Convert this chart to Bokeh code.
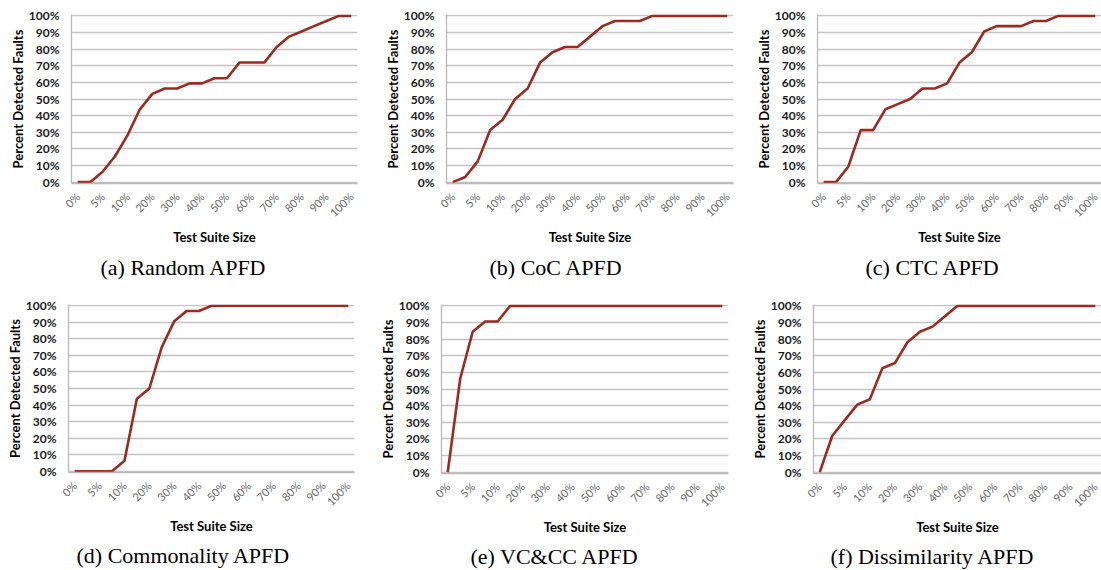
import math
from bokeh.plotting import figure
from bokeh.layouts import row, column
from bokeh.models import Range1d, FixedTicker, PrintfTickFormatter, Title, ColumnDataSource
from bokeh.embed import file_html
from bokeh.resources import INLINE

# ---- data -------------------------------------------------------------
categories = ["0%", "2.5%", "5%", "7.5%", "10%", "15%", "20%", "25%", "30%", "35%",
              "40%", "45%", "50%", "55%", "60%", "65%", "70%", "75%", "80%", "85%",
              "90%", "95%", "100%"]
tick_labels = ["0%", "5%", "10%", "20%", "30%", "40%", "50%", "60%", "70%", "80%", "90%", "100%"]
y_ticks = [0, 10, 20, 30, 40, 50, 60, 70, 80, 90, 100]

random_apfd = [0, 0, 6.3, 15.6, 28.1, 43.8, 53.1, 56.3, 56.3, 59.4, 59.4, 62.5, 62.5,
               71.9, 71.9, 71.9, 81.3, 87.5, 90.6, 93.8, 96.9, 100, 100]
coc_apfd = [0, 3.1, 12.5, 31.3, 37.5, 50, 56.3, 71.9, 78.1, 81.3, 81.3, 87.5, 93.8,
            96.9, 96.9, 96.9, 100, 100, 100, 100, 100, 100, 100]
ctc_apfd = [0, 0, 9.4, 31.3, 31.3, 43.8, 46.9, 50, 56.3, 56.3, 59.4, 71.9, 78.1,
            90.6, 93.8, 93.8, 93.8, 96.9, 96.9, 100, 100, 100, 100]
commonality_apfd = [0, 0, 0, 0, 6.3, 43.8, 50, 75, 90.6, 96.9, 96.9, 100, 100,
                    100, 100, 100, 100, 100, 100, 100, 100, 100, 100]
vccc_apfd = [0, 56.3, 84.4, 90.6, 90.6, 100, 100, 100, 100, 100, 100, 100, 100,
             100, 100, 100, 100, 100, 100, 100, 100, 100, 100]
dissimilarity_apfd = [0, 21.9, 31.3, 40.6, 43.8, 62.5, 65.6, 78.1, 84.4, 87.5, 93.8, 100, 100,
                      100, 100, 100, 100, 100, 100, 100, 100, 100, 100]

captions = ["(a) Random APFD", "(b) CoC APFD", "(c) CTC APFD",
            "(d) Commonality APFD", "(e) VC&CC APFD", "(f) Dissimilarity APFD"]
x_title = "Test Suite Size"
y_title = "Percent Detected Faults"

LINE = "#9b2a20"
GRID = "#c4c4c4"
SANS = "Lato"


def panel(values, caption, h, left, right, top, fw, fh, cap_off, cap_standoff):
    bottom = h - top - fh
    idx = list(range(len(categories)))
    src = ColumnDataSource(dict(x=idx, y=values, cat=categories))
    p = figure(frame_width=fw, frame_height=fh, output_backend="svg", toolbar_location=None,
               x_range=Range1d(-0.5, len(categories) - 0.5), y_range=Range1d(-0.8, 100.8),
               min_border_left=left, min_border_right=right,
               min_border_top=top, min_border_bottom=bottom)
    p.outline_line_color = None
    p.background_fill_color = "white"
    p.border_fill_color = "white"
    p.line("x", "y", source=src, line_color=LINE, line_width=2.6, line_join="round")

    p.xgrid.grid_line_color = None
    p.ygrid.grid_line_color = GRID
    p.ygrid.grid_line_width = 1.3
    p.ygrid.ticker = FixedTicker(ticks=y_ticks)

    xa = p.xaxis[0]
    xa.ticker = FixedTicker(ticks=list(range(0, len(categories), 2)))
    xa.major_label_overrides = {i * 2: lbl for i, lbl in enumerate(tick_labels)}
    xa.major_label_orientation = math.pi / 4
    xa.major_label_text_font = SANS
    xa.major_label_text_font_size = "11px"
    xa.major_label_text_color = "#666666"
    xa.major_label_standoff = 11
    xa.major_tick_in = 0
    xa.major_tick_out = 0
    xa.minor_tick_in = 0
    xa.minor_tick_out = 0
    xa.axis_line_color = "#b8b8b8"
    xa.axis_line_width = 1.3
    xa.axis_label = x_title
    xa.axis_label_text_font = SANS
    xa.axis_label_text_font_size = "13px"
    xa.axis_label_text_font_style = "bold"
    xa.axis_label_text_color = "#000000"
    xa.axis_label_standoff = 3

    ya = p.yaxis[0]
    ya.ticker = FixedTicker(ticks=y_ticks)
    ya.formatter = PrintfTickFormatter(format="%d%%")
    ya.major_label_text_font = SANS
    ya.major_label_text_font_size = "12px"
    ya.major_label_text_font_style = "bold"
    ya.major_label_text_color = "#1a1a1a"
    ya.major_label_standoff = 12
    ya.major_tick_in = 0
    ya.major_tick_out = 0
    ya.minor_tick_in = 0
    ya.minor_tick_out = 0
    ya.axis_line_color = "#b8b8b8"
    ya.axis_line_width = 1.3
    ya.axis_label = y_title
    ya.axis_label_text_font = SANS
    ya.axis_label_text_font_size = "13px"
    ya.axis_label_text_font_style = "bold"
    ya.axis_label_text_color = "#000000"
    ya.axis_label_standoff = 0

    t = Title(text=caption, align="left", offset=cap_off, text_font="Liberation Serif",
              text_font_size="22px", text_font_style="normal", text_color="#000000",
              standoff=cap_standoff)
    p.add_layout(t, "below")
    return p


pa = panel(random_apfd, captions[0], 285, 71, 13, 13, 286, 169, 29, 8)
pb = panel(coc_apfd, captions[1], 285, 76, 7, 14, 287, 169, 43, 8)
pc = panel(ctc_apfd, captions[2], 285, 77, 0, 11, 284, 169, 48, 8)
pd = panel(commonality_apfd, captions[3], 284, 68, 16, 18, 286, 168, 8, 6)
pe = panel(vccc_apfd, captions[4], 284, 71, 12, 16, 287, 169, 29, 6)
pf = panel(dissimilarity_apfd, captions[5], 284, 73, 0, 19, 288, 169, 17, 6)

layout = column(row(pa, pb, pc), row(pd, pe, pf))

open("out.html", "w").write(file_html(layout, INLINE))
